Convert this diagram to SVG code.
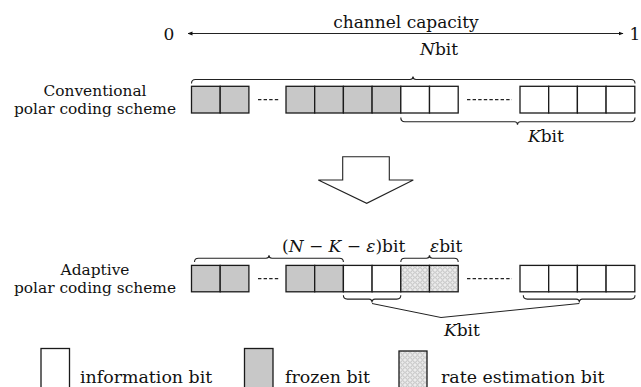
<svg xmlns="http://www.w3.org/2000/svg" width="641" height="387" viewBox="0 0 641 387">
<style>
text{font-family:"DejaVu Serif","Liberation Serif",serif;fill:#111}
.lbl{font-size:15.4px;text-anchor:middle}
.big{font-size:17px}
.it{font-style:italic}
.bx{stroke:#1a1a1a;stroke-width:1.3}
.w{fill:#fff}
.g{fill:#c8c8c8}
.h{fill:url(#hatch)}
.dash{stroke:#222;stroke-width:1.4;stroke-dasharray:3.4 2.2;fill:none}
.br{fill:none;stroke:#222;stroke-width:1.1}
.ln{fill:none;stroke:#222;stroke-width:1}
</style>
<defs>
<pattern id="hatch" width="5" height="5" patternUnits="userSpaceOnUse">
<rect width="5" height="5" fill="#ececec"/>
<circle cx="2.5" cy="2.5" r="1.8" fill="none" stroke="#b4b4b4" stroke-width="0.8"/>
</pattern>
<marker id="ah" viewBox="0 0 10 10" refX="9" refY="5" markerWidth="5" markerHeight="5" orient="auto-start-reverse" markerUnits="userSpaceOnUse">
<path d="M0,1 L10,5 L0,9 z" fill="#111"/>
</marker>
</defs>
<rect width="641" height="387" fill="#fff"/>

<g id="capacity-axis">
<text class="big" x="406" y="27.5" text-anchor="middle">channel capacity</text>
<text class="big" x="169" y="40" text-anchor="middle">0</text>
<text class="big" x="635" y="40" text-anchor="middle">1</text>
</g>

<g id="conventional-label">
<text class="lbl" x="95" y="96">Conventional</text>
<text class="lbl" x="95" y="114">polar coding scheme</text>
</g>

<g id="conventional-row">
<rect class="bx g" x="191.5" y="86.3" width="28.7" height="26.7"/>
<rect class="bx g" x="220.2" y="86.3" width="28.7" height="26.7"/>
<line class="dash" x1="258" y1="99.6" x2="279" y2="99.6"/>
<rect class="bx g" x="286" y="86.3" width="28.7" height="26.7"/>
<rect class="bx g" x="314.7" y="86.3" width="28.7" height="26.7"/>
<rect class="bx g" x="343.4" y="86.3" width="28.7" height="26.7"/>
<rect class="bx g" x="372.1" y="86.3" width="28.7" height="26.7"/>
<rect class="bx w" x="400.8" y="86.3" width="28.7" height="26.7"/>
<rect class="bx w" x="429.5" y="86.3" width="28.7" height="26.7"/>
<line class="dash" x1="467" y1="99.6" x2="512" y2="99.6"/>
<rect class="bx w" x="520" y="86.3" width="28.7" height="26.7"/>
<rect class="bx w" x="548.7" y="86.3" width="28.7" height="26.7"/>
<rect class="bx w" x="577.4" y="86.3" width="28.7" height="26.7"/>
<rect class="bx w" x="606.1" y="86.3" width="28.7" height="26.7"/>
<text class="big" x="420" y="55"><tspan class="it">N</tspan>bit</text>
<text class="big" x="528" y="142"><tspan class="it">K</tspan>bit</text>
</g>

<g id="transition-arrow">
<polygon points="342.7,156.7 389.3,156.7 389.3,180 413.3,180 366.7,203.3 318.3,180 342.7,180" fill="#fff" stroke="#222" stroke-width="1.1"/>
</g>

<g id="adaptive-label">
<text class="lbl" x="95" y="275">Adaptive</text>
<text class="lbl" x="95" y="293">polar coding scheme</text>
</g>

<g id="adaptive-row">
<rect class="bx g" x="191.5" y="265.4" width="28.7" height="26.4"/>
<rect class="bx g" x="220.2" y="265.4" width="28.7" height="26.4"/>
<line class="dash" x1="258" y1="278.6" x2="279" y2="278.6"/>
<rect class="bx g" x="286" y="265.4" width="28.7" height="26.4"/>
<rect class="bx g" x="314.7" y="265.4" width="28.7" height="26.4"/>
<rect class="bx w" x="343.4" y="265.4" width="28.7" height="26.4"/>
<rect class="bx w" x="372.1" y="265.4" width="28.7" height="26.4"/>
<rect class="bx h" x="400.8" y="265.4" width="28.7" height="26.4"/>
<rect class="bx h" x="429.5" y="265.4" width="28.7" height="26.4"/>
<line class="dash" x1="467" y1="278.6" x2="512" y2="278.6"/>
<rect class="bx w" x="520" y="265.4" width="28.7" height="26.4"/>
<rect class="bx w" x="548.7" y="265.4" width="28.7" height="26.4"/>
<rect class="bx w" x="577.4" y="265.4" width="28.7" height="26.4"/>
<rect class="bx w" x="606.1" y="265.4" width="28.7" height="26.4"/>
<text class="big" x="282" y="252">(<tspan class="it">N</tspan> − <tspan class="it">K</tspan> − <tspan class="it">ε</tspan>)bit</text>
<text class="big" x="430" y="252"><tspan class="it">ε</tspan>bit</text>
<text class="big" x="444" y="336"><tspan class="it">K</tspan>bit</text>
</g>

<g id="connectors">
<line class="ln" x1="188" y1="33.5" x2="623" y2="33.5" marker-start="url(#ah)" marker-end="url(#ah)"/>
<path class="br" d="M191.5,83.5 Q191.5,79.5 195.5,79.5 L410,79.5 Q413,79.5 413,76.5 Q413,79.5 416,79.5 L631,79.5 Q635,79.5 635,83.5"/>
<path class="br" d="M400.8,117.5 Q400.8,121.7 404.8,121.7 L514.5,121.7 Q517.5,121.7 517.5,124.7 Q517.5,121.7 520.5,121.7 L631,121.7 Q635,121.7 635,117.5"/>
<path class="br" d="M194.5,262 Q194.5,258.2 198.5,258.2 L266,258.2 Q269,258.2 269,255.2 Q269,258.2 272,258.2 L339.4,258.2 Q343.4,258.2 343.4,262"/>
<path class="br" d="M400.8,262 Q400.8,258.2 404.8,258.2 L426.5,258.2 Q429.5,258.2 429.5,255.2 Q429.5,258.2 432.5,258.2 L454.2,258.2 Q458.2,258.2 458.2,262"/>
<path class="br" d="M343.4,295.3 Q343.4,299.1 347.4,299.1 L369,299.1 Q372,299.1 372,302.5 Q372,299.1 375,299.1 L396.8,299.1 Q400.8,299.1 400.8,295.3"/>
<path class="br" d="M523.3,295.3 Q523.3,299.1 527.3,299.1 L576.3,299.1 Q579.3,299.1 579.3,302.5 Q579.3,299.1 582.3,299.1 L631,299.1 Q635,299.1 635,295.3"/>
<polyline class="ln" points="372,303.5 441,317.5 579.3,303.5"/>
</g>

<g id="legend">
<rect class="bx w" x="41" y="348.5" width="28.5" height="45"/>
<text class="big" x="80" y="383" style="font-size:17.4px">information bit</text>
<rect class="bx g" x="244.5" y="348.5" width="28.5" height="45"/>
<text class="big" x="285" y="383" style="font-size:17.4px">frozen bit</text>
<rect class="bx h" x="399" y="351" width="28" height="45"/>
<text class="big" x="441" y="383" style="font-size:17.4px">rate estimation bit</text>
</g>
</svg>
